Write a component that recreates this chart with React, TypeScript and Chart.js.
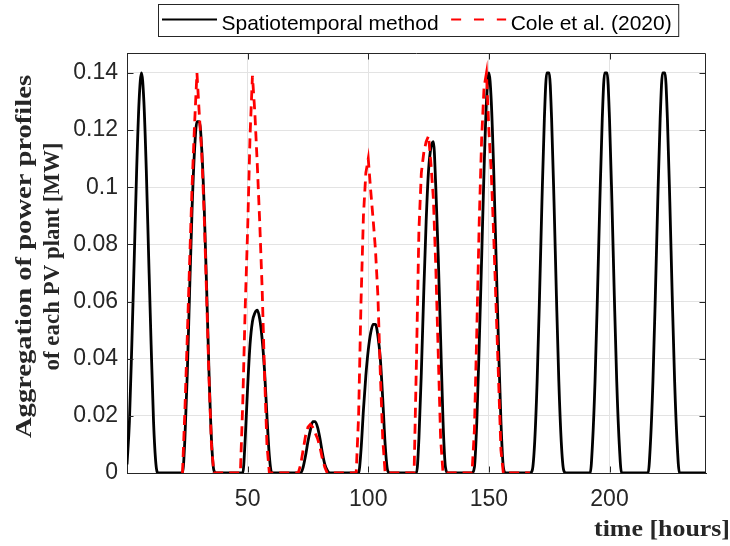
import React, { useEffect, useRef } from "react";
import { Chart, registerables } from "chart.js";

Chart.register(...registerables);

// ---------- data ----------
// hourly time axis, hours 0 … 240
const hours: number[] = Array.from({ length: 241 }, (_, i) => i);

// Spatiotemporal method, one row per day (24 hourly values), plus hour 240
const spatiotemporal: number[] = [
  0.003, 0.018, 0.045, 0.075, 0.106, 0.13, 0.14, 0.13, 0.106, 0.075, 0.045, 0.018, 0.003, 0, 0, 0, 0, 0, 0, 0, 0, 0, 0, 0,
  0.012, 0.035, 0.065, 0.093, 0.113, 0.123, 0.123, 0.113, 0.093, 0.065, 0.035, 0.012, 0.001, 0, 0, 0, 0, 0, 0, 0, 0, 0, 0, 0,
  0, 0.012, 0.03, 0.045, 0.053, 0.056, 0.057, 0.054, 0.047, 0.036, 0.02, 0.006, 0, 0, 0, 0, 0, 0, 0, 0, 0, 0, 0, 0,
  0, 0.002, 0.006, 0.011, 0.015, 0.018, 0.018, 0.016, 0.012, 0.007, 0.003, 0.001, 0, 0, 0, 0, 0, 0, 0, 0, 0, 0, 0, 0,
  0, 0.008, 0.022, 0.034, 0.043, 0.049, 0.052, 0.052, 0.048, 0.04, 0.026, 0.01, 0.001, 0, 0, 0, 0, 0, 0, 0, 0, 0, 0, 0,
  0, 0.012, 0.035, 0.063, 0.088, 0.106, 0.114, 0.116, 0.1, 0.076, 0.047, 0.018, 0.002, 0, 0, 0, 0, 0, 0, 0, 0, 0, 0, 0,
  0.002, 0.018, 0.045, 0.075, 0.106, 0.13, 0.14, 0.13, 0.106, 0.075, 0.045, 0.018, 0.002, 0, 0, 0, 0, 0, 0, 0, 0, 0, 0, 0,
  0.001, 0.011, 0.032, 0.062, 0.095, 0.124, 0.14, 0.14, 0.124, 0.095, 0.062, 0.032, 0.011, 0.001, 0, 0, 0, 0, 0, 0, 0, 0, 0, 0,
  0, 0.011, 0.032, 0.062, 0.095, 0.124, 0.14, 0.14, 0.124, 0.095, 0.062, 0.032, 0.011, 0, 0, 0, 0, 0, 0, 0, 0, 0, 0, 0,
  0, 0.011, 0.032, 0.062, 0.095, 0.124, 0.14, 0.14, 0.124, 0.095, 0.062, 0.032, 0.011, 0, 0, 0, 0, 0, 0, 0, 0, 0, 0, 0,
  0,
];

// Cole et al. (2020): hourly values from hour 23 to hour 168
const coleStartHour = 23;
const cole: number[] = [
  0,
  0.022, 0.048, 0.075, 0.101, 0.122, 0.14, 0.125, 0.112, 0.09, 0.062, 0.033, 0.01, 0, 0, 0, 0, 0, 0, 0, 0, 0, 0, 0,
  0, 0.025, 0.058, 0.085, 0.118, 0.139, 0.126, 0.108, 0.088, 0.065, 0.035, 0.01, 0, 0, 0, 0, 0, 0, 0, 0, 0, 0, 0, 0,
  0, 0.003, 0.008, 0.013, 0.016, 0.017, 0.016, 0.014, 0.012, 0.009, 0.005, 0.002, 0, 0, 0, 0, 0, 0, 0, 0, 0, 0, 0, 0,
  0, 0.02, 0.06, 0.09, 0.105, 0.11, 0.099, 0.089, 0.078, 0.062, 0.035, 0.012, 0, 0, 0, 0, 0, 0, 0, 0, 0, 0, 0, 0,
  0, 0.04, 0.085, 0.105, 0.112, 0.116, 0.118, 0.108, 0.096, 0.072, 0.042, 0.012, 0, 0, 0, 0, 0, 0, 0, 0, 0, 0, 0, 0,
  0, 0.015, 0.05, 0.088, 0.117, 0.135, 0.14, 0.12, 0.105, 0.083, 0.058, 0.033, 0.008, 0, 0, 0, 0, 0, 0, 0, 0, 0, 0, 0,
  0,
];

const seriesNames = ["Spatiotemporal method", "Cole et al. (2020)"];
const xTicks = [50, 100, 150, 200];
const yTicks = [0, 0.02, 0.04, 0.06, 0.08, 0.1, 0.12, 0.14];
const yTickLabels = ["0", "0.02", "0.04", "0.06", "0.08", "0.1", "0.12", "0.14"];
const xTitle = "time [hours]";
const yTitle = ["Aggregation of power profiles", "of each PV plant [MW]"];

// ---------- style ----------
const AXIS = "#262626";
const GRID = "#e3e3e3";
const SANS = '"Liberation Sans", Arial, sans-serif';
const SERIF = '"Liberation Serif", "Times New Roman", serif';

// draw text stretched along its baseline to a given length
function stretchedText(ctx: any, text: string, cx: number, cy: number, len: number, rot: number) {
  const w = ctx.measureText(text).width;
  ctx.save();
  ctx.translate(cx, cy);
  ctx.rotate(rot);
  ctx.scale(len / w, 1);
  ctx.fillText(text, 0, 0);
  ctx.restore();
}

const framePlugin = {
  id: "matlabFrame",
  afterDraw(chart: any) {
    const { ctx, chartArea: a, scales } = chart;
    const L = Math.round(a.left) + 0.5;
    const R = Math.round(a.right) - 0.5;
    const T = Math.round(a.top) + 0.5;
    const B = Math.round(a.bottom) - 0.5;
    ctx.save();
    ctx.strokeStyle = AXIS;
    ctx.lineWidth = 1;
    ctx.setLineDash([]);
    ctx.beginPath();
    ctx.moveTo(L, T);
    ctx.lineTo(R, T);
    ctx.lineTo(R, B);
    ctx.stroke();
    const tl = 6;
    ctx.beginPath();
    for (const v of xTicks) {
      const px = Math.round(scales.x.getPixelForValue(v)) + 0.5;
      ctx.moveTo(px, B);
      ctx.lineTo(px, B - tl);
      ctx.moveTo(px, T);
      ctx.lineTo(px, T + tl);
    }
    for (const v of yTicks) {
      const py = Math.round(scales.y.getPixelForValue(v)) + 0.5;
      ctx.moveTo(L, py);
      ctx.lineTo(L + tl, py);
      ctx.moveTo(R, py);
      ctx.lineTo(R - tl, py);
    }
    ctx.stroke();

    // axis titles
    ctx.fillStyle = AXIS;
    ctx.font = `bold 24px ${SERIF}`;
    ctx.textAlign = "center";
    ctx.textBaseline = "alphabetic";
    stretchedText(ctx, xTitle, chart.width - 68, a.bottom + 63, 136, 0);

    ctx.textBaseline = "middle";
    const yMid = (a.top + a.bottom) / 2 - 6.5;
    stretchedText(ctx, yTitle[0], 25, yMid, 363, -Math.PI / 2);
    stretchedText(ctx, yTitle[1], 53, yMid, 228, -Math.PI / 2);

    // legend
    ctx.font = `21px ${SANS}`;
    const w1 = ctx.measureText(seriesNames[0]).width;
    const w2 = ctx.measureText(seriesNames[1]).width;
    const lineLen = 55;
    const gapText = 4.5;
    const gapItem = 12.5;
    const padL = 3.5;
    const padR = 7;
    const boxW = padL + lineLen + gapText + w1 + gapItem + lineLen + gapText + w2 + padR;
    const cx = (a.left + a.right) / 2 + 2;
    const bx = Math.round(cx - boxW / 2) + 0.5;
    const by = Math.round(a.top - 49) + 0.5;
    const bh = 32;
    ctx.fillStyle = "#ffffff";
    ctx.fillRect(bx, by, boxW, bh);
    ctx.strokeStyle = AXIS;
    ctx.lineWidth = 1;
    ctx.strokeRect(bx, by, boxW, bh);
    const ly = by + 15;
    let x = bx + padL;
    ctx.lineWidth = 2;
    ctx.strokeStyle = "#000000";
    ctx.beginPath();
    ctx.moveTo(x, ly);
    ctx.lineTo(x + lineLen, ly);
    ctx.stroke();
    x += lineLen + gapText;
    ctx.fillStyle = "#000000";
    ctx.textAlign = "left";
    ctx.textBaseline = "alphabetic";
    const ty = by + 25;
    ctx.fillText(seriesNames[0], x, ty);
    x += w1 + gapItem;
    ctx.strokeStyle = "#ff0000";
    ctx.setLineDash([10, 12.85]);
    ctx.beginPath();
    ctx.moveTo(x, ly);
    ctx.lineTo(x + lineLen, ly);
    ctx.stroke();
    ctx.setLineDash([]);
    x += lineLen + gapText;
    ctx.fillText(seriesNames[1], x, ty);
    ctx.restore();
  },
};

export default function App() {
  const canvasRef = useRef<HTMLCanvasElement | null>(null);

  useEffect(() => {
    document.body.style.margin = "0";
    const canvas = canvasRef.current;
    if (!canvas) return;
    const chart = new Chart(canvas, {
      type: "line",
      data: {
        datasets: [
          {
            label: seriesNames[0],
            data: hours.map((h, i) => ({ x: h, y: spatiotemporal[i] })),
            borderColor: "#000000",
            borderWidth: 2.8,
            pointRadius: 0,
            cubicInterpolationMode: "monotone",
            fill: false,
            order: 1,
          },
          {
            label: seriesNames[1],
            data: cole.map((v, i) => ({ x: coleStartHour + i, y: v })),
            borderColor: "#ff0000",
            borderWidth: 2.8,
            borderDash: [10, 6],
            pointRadius: 0,
            tension: 0,
            fill: false,
            order: 0,
          },
        ],
      },
      options: {
        animation: false,
        responsive: false,
        devicePixelRatio: 1,
        layout: { padding: { top: 53, right: 24, left: 0, bottom: 0 } },
        plugins: {
          legend: { display: false },
          tooltip: { enabled: false },
          title: { display: false },
        },
        scales: {
          x: {
            type: "linear",
            min: 0,
            max: 240,
            afterBuildTicks: (s: any) => {
              s.ticks = xTicks.map((v) => ({ value: v }));
            },
            afterFit: (s: any) => {
              s.height = 73;
            },
            grid: { color: GRID, lineWidth: 1, drawTicks: false },
            border: { display: true, color: AXIS, width: 1 },
            ticks: {
              color: AXIS,
              font: { family: SANS, size: 23 },
              padding: 13,
              maxRotation: 0,
              autoSkip: false,
              callback: (v: any) => String(v),
            },
          },
          y: {
            type: "linear",
            min: 0,
            max: 0.147,
            afterBuildTicks: (s: any) => {
              s.ticks = yTicks.map((v) => ({ value: v }));
            },
            afterFit: (s: any) => {
              s.width = 127;
            },
            grid: { color: GRID, lineWidth: 1, drawTicks: false },
            border: { display: true, color: AXIS, width: 1 },
            ticks: {
              color: AXIS,
              font: { family: SANS, size: 23 },
              padding: 9,
              autoSkip: false,
              callback: (_v: any, i: number) => yTickLabels[i],
            },
          },
        },
      },
      plugins: [framePlugin],
    });
    return () => chart.destroy();
  }, []);

  return (
    <div style={{ position: "absolute", left: 0, top: 0, width: 730, height: 546, background: "#fff" }}>
      <canvas ref={canvasRef} width={730} height={546} />
    </div>
  );
}
